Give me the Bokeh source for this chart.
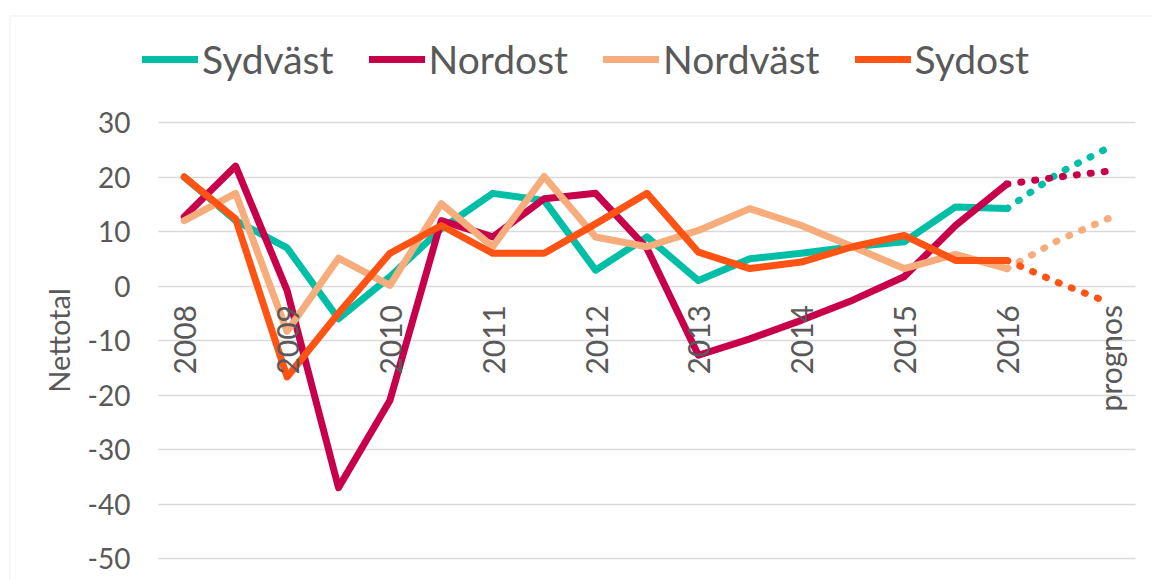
import math
from bokeh.plotting import figure
from bokeh.models import FixedTicker, Range1d, Legend, LegendItem, BoxAnnotation, Grid
from bokeh.embed import file_html
from bokeh.resources import INLINE

# ---- data ----
tick_positions = [0, 2, 4, 6, 8, 10, 12, 14, 16, 18]
tick_labels = ["2008", "2009", "2010", "2011", "2012", "2013", "2014", "2015", "2016", "prognos"]
x_actual = list(range(17))
x_forecast = [16, 17, 18]

series_names = ["Sydväst", "Nordost", "Nordväst", "Sydost"]
sydvast = [20, 12, 7, -6, 1.7, 10.5, 17, 15.7, 2.9, 9, 1, 5, 6, 7.2, 8.1, 14.5, 14.2]
nordost = [12.7, 22, -0.8, -37, -21, 12, 9, 16, 17, 6.9, -12.7, -9.7, -6.3, -2.6, 1.7, 11.1, 18.7]
nordvast = [12, 17, -8.3, 5.1, 0.1, 15.1, 7.2, 20.1, 9, 7.2, 10.2, 14.2, 11.1, 7.2, 3.2, 5.8, 3.2]
sydost = [20, 12.3, -16.7, -5, 6, 11.1, 6, 6, 11.4, 17, 6.2, 3.2, 4.4, 7.2, 9.3, 4.7, 4.7]

sydvast_f = [14.2, 20.7, 25.5]
nordost_f = [18.7, 20.0, 21.1]
nordvast_f = [3.2, 8.4, 12.5]
sydost_f = [4.7, 0.6, -3.1]

y_ticks = [-50, -40, -30, -20, -10, 0, 10, 20, 30]
y_tick_labels = ["-50", "-40", "-30", "-20", "-10", "0", "10", "20", "30"]

colors = ["#00BFA6", "#C8004B", "#F6AC7B", "#FF5314"]
FONT = "Lato"
TXT = "#595959"

# ---- layout geometry (pixels) ----
W, H = 1152, 580
PL, PR, PT, PB = 158, 1135, 122, 558   # plot area edges
X0, X1 = -0.5, 18.5
Y0, Y1 = -50, 30
sx = (PR - PL) / (X1 - X0)
sy = (PB - PT) / (Y1 - Y0)
xr = Range1d(X0 - PL / sx, X1 + (W - PR) / sx)
yr = Range1d(Y0 - (H - PB) / sy, Y1 + PT / sy)

def px_to_x(px):
    return xr.start + px / sx

def px_to_y(py):
    return yr.end - py / sy

p = figure(width=W, height=H, output_backend="svg", toolbar_location=None,
           x_range=xr, y_range=yr,
           min_border_left=0, min_border_right=0, min_border_top=0, min_border_bottom=0)
p.outline_line_color = None
p.background_fill_color = "white"
p.border_fill_color = "white"

# grid
p.xgrid.visible = False
p.ygrid.ticker = FixedTicker(ticks=y_ticks)
p.ygrid.grid_line_color = "#d9d9d9"
p.ygrid.grid_line_width = 1.5
if "cross_bounds" in Grid.properties():
    p.ygrid.cross_bounds = (X0, X1)

# y axis at left edge of plot area
p.yaxis.fixed_location = X0
p.yaxis.bounds = (Y0, Y1)
p.yaxis.ticker = FixedTicker(ticks=y_ticks)
p.yaxis.major_label_overrides = {k: v for k, v in zip(y_ticks, y_tick_labels)}
p.yaxis.axis_line_color = None
p.yaxis.major_tick_line_color = None
p.yaxis.minor_tick_line_color = None
p.yaxis.major_tick_out = 0
p.yaxis.major_label_standoff = 28
p.yaxis.major_label_text_font = FONT
p.yaxis.major_label_text_font_size = "28px"
p.yaxis.major_label_text_color = TXT
p.yaxis.axis_label = "Nettotal"
p.yaxis.axis_label_text_font = FONT
p.yaxis.axis_label_text_font_size = "29px"
p.yaxis.axis_label_text_font_style = "normal"
p.yaxis.axis_label_text_color = TXT
p.yaxis.axis_label_standoff = 9

# x axis at y = 0
p.xaxis.fixed_location = 0
p.xaxis.bounds = (X0, X1)
p.xaxis.ticker = FixedTicker(ticks=tick_positions)
p.xaxis.major_label_overrides = {k: v for k, v in zip(tick_positions, tick_labels)}
p.xaxis.major_label_orientation = math.pi / 2
p.xaxis.axis_line_color = None
p.xaxis.major_tick_line_color = None
p.xaxis.minor_tick_line_color = None
p.xaxis.major_tick_out = 0
p.xaxis.major_label_standoff = 19
p.xaxis.major_label_text_font = FONT
p.xaxis.major_label_text_font_size = "30px"
p.xaxis.major_label_text_color = TXT

# chart border (top and left visible)
border = BoxAnnotation(left=px_to_x(9.5), right=px_to_x(W + 50), top=px_to_y(15.5), bottom=px_to_y(H + 50),
                       fill_alpha=0, line_color="#d9d9d9", line_width=1.5, level="underlay")
p.add_layout(border)

actual = [sydvast, nordost, nordvast, sydost]
forecast = [sydvast_f, nordost_f, nordvast_f, sydost_f]

items = []
for name, fys, c in zip(series_names, forecast, colors):
    p.line(x_forecast, fys, line_color=c, line_width=7, line_dash="1 13", line_cap="round")
for name, ys, c in zip(series_names, actual, colors):
    r = p.line(x_actual, ys, line_color=c, line_width=7, line_cap="round", line_join="round")
    items.append(LegendItem(label=name, renderers=[r]))

legend = Legend(items=items, orientation="horizontal", location=(142, H - 82),
                padding=0, margin=0, spacing=35, label_standoff=4, glyph_width=56, glyph_height=44,
                label_height=44, border_line_color=None, background_fill_alpha=0,
                label_text_font=FONT, label_text_font_size="39px", label_text_color=TXT)
p.add_layout(legend, "center")

open("out.html", "w").write(file_html(p, INLINE))
